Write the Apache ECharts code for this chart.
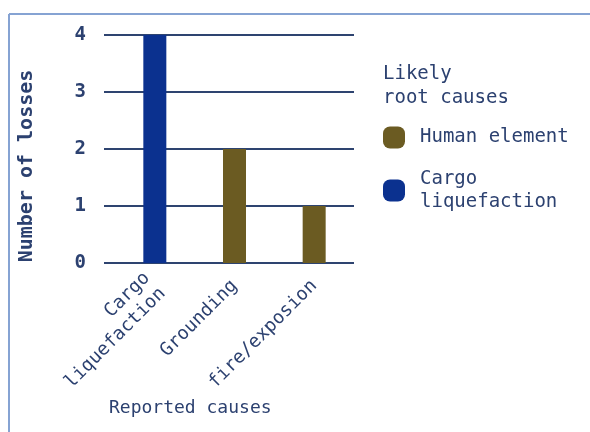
<!DOCTYPE html>
<html>
<head>
<meta charset="utf-8">
<script src="https://cdn.jsdelivr.net/npm/echarts@6/dist/echarts.min.js"></script>
<style>
  html, body { margin: 0; padding: 0; background: #ffffff; }
  #chart { width: 590px; height: 432px; }
</style>
</head>
<body>
<div id="chart"></div>
<script>
// Reported causes of losses and the likely root cause behind each one
const categories = ['Cargo\nliquefaction', 'Grounding', 'fire/exposion'];
const humanElement = [null, 2, 1];
const cargoLiquefaction = [4, null, null];
const yTicks = [0, 1, 2, 3, 4];

const FONT = 'DejaVu Sans Mono';
const TEXT = '#2c4170';
const NAVY = '#0b318f';
const OLIVE = '#6b5b22';
const GRID_LINE = '#2e4470';
const ROUND_ICON = 'path://M7,0 H15 A7,7 0 0 1 22,7 V15 A7,7 0 0 1 15,22 H7 A7,7 0 0 1 0,15 V7 A7,7 0 0 1 7,0 Z';

const chart = echarts.init(document.getElementById('chart'), null, { renderer: 'canvas' });

chart.setOption({
  backgroundColor: '#ffffff',
  animation: false,
  title: [
    {
      text: 'Likely\nroot causes',
      left: 378, top: 57,
      textStyle: { fontFamily: FONT, fontSize: 19, fontWeight: 'normal', color: TEXT, lineHeight: 24 }
    },
    {
      text: 'Reported causes',
      left: 104, top: 394,
      textStyle: { fontFamily: FONT, fontSize: 18, fontWeight: 'normal', color: TEXT }
    }
  ],
  legend: {
    orient: 'vertical',
    left: 378, top: 121,
    itemWidth: 22, itemHeight: 22,
    itemGap: 7,
    icon: ROUND_ICON,
    textStyle: { fontFamily: FONT, fontSize: 19, color: TEXT, lineHeight: 23, padding: [0, 0, 0, 10] },
    data: [
      { name: 'Human element' },
      { name: 'Cargo liquefaction', textStyle: { padding: [23, 0, 0, 10] } }
    ],
    formatter: function (name) {
      return name === 'Cargo liquefaction' ? 'Cargo\nliquefaction' : name;
    }
  },
  grid: [
    // bars
    { left: 115, width: 239, top: 35, height: 228 },
    // horizontal rules and value labels
    { left: 104, width: 250, top: 35, height: 228 }
  ],
  xAxis: [
    {
      type: 'category', gridIndex: 0, data: categories,
      axisLine: { show: false }, axisTick: { show: false },
      axisLabel: {
        rotate: 45, margin: 20, interval: 0,
        fontFamily: FONT, fontSize: 18.5, lineHeight: 22, color: TEXT
      }
    },
    { type: 'value', gridIndex: 1, min: 0, max: 1, show: false }
  ],
  yAxis: [
    { type: 'value', gridIndex: 0, min: 0, max: 4, interval: 1, show: false },
    {
      type: 'value', gridIndex: 1, min: yTicks[0], max: yTicks[yTicks.length - 1], interval: 1,
      axisLine: { show: false }, axisTick: { show: false },
      axisLabel: { margin: 18, fontFamily: FONT, fontSize: 19, fontWeight: 'bold', color: TEXT },
      splitLine: { lineStyle: { color: GRID_LINE, width: 2 } }
    }
  ],
  graphic: [
    { type: 'line', shape: { x1: 9, y1: 14, x2: 590, y2: 14 }, style: { stroke: '#86a3d3', lineWidth: 2 }, silent: true },
    { type: 'line', shape: { x1: 9, y1: 14, x2: 9, y2: 432 }, style: { stroke: '#86a3d3', lineWidth: 2 }, silent: true },
    {
      type: 'text', x: 27, y: 166, rotation: Math.PI / 2,
      style: {
        text: 'Number of losses', fontFamily: FONT, fontSize: 20, fontWeight: 'bold', fill: TEXT,
        align: 'center', verticalAlign: 'middle'
      }
    }
  ],
  series: [
    {
      name: 'Human element', type: 'bar', xAxisIndex: 0, yAxisIndex: 0,
      stack: 'cause', barWidth: 23, data: humanElement,
      itemStyle: { color: OLIVE }, z: 3
    },
    {
      name: 'Cargo liquefaction', type: 'bar', xAxisIndex: 0, yAxisIndex: 0,
      stack: 'cause', barWidth: 23, data: cargoLiquefaction,
      itemStyle: { color: NAVY }, z: 3
    }
  ]
});
</script>
</body>
</html>
